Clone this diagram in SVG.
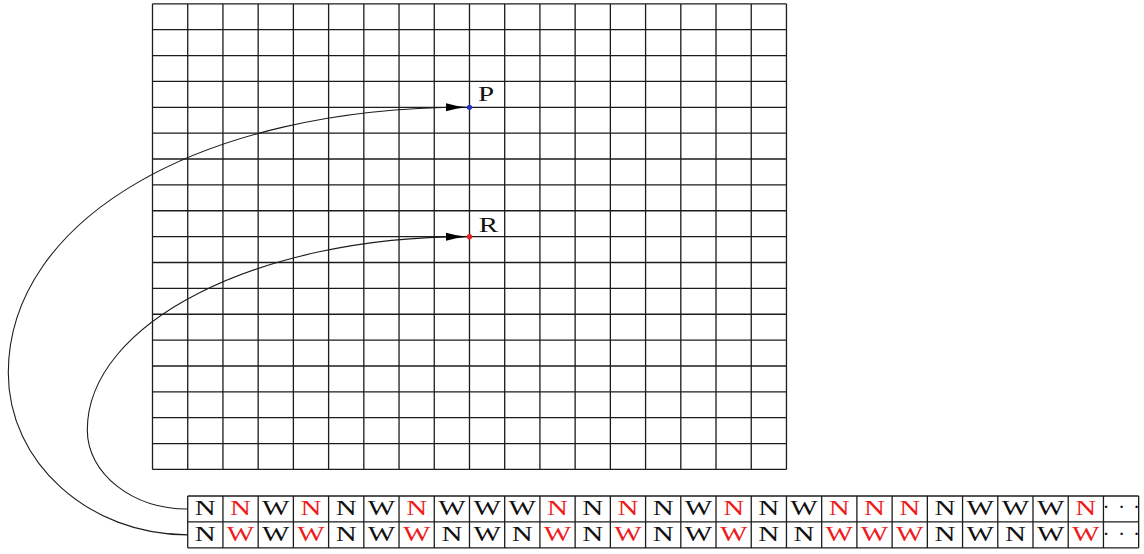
<svg xmlns="http://www.w3.org/2000/svg" width="1144" height="554" viewBox="0 0 1144 554">
<defs>
<style>
.grid{fill:none;stroke:#1c1c1c;stroke-width:1.3}
.con{fill:none;stroke:#1c1c1c;stroke-width:1.1}
.t{font-family:"Liberation Serif","DejaVu Serif",serif;font-size:21.5px;fill:#111}
.c{text-anchor:middle}
.r{fill:#ee1c1c}
</style>
<marker id="ah" markerUnits="userSpaceOnUse" markerWidth="24" markerHeight="12" refX="21" refY="5" orient="auto">
<path d="M0,1 Q10,4 21,5 Q10,6 0,9 z" fill="#000"/>
</marker>
</defs>
<rect width="1144" height="554" fill="#fff"/>
<g id="grid">
<path class="grid" d="M152.5 3.8V469.46M187.72 3.8V469.46M222.94 3.8V469.46M258.16 3.8V469.46M293.38 3.8V469.46M328.6 3.8V469.46M363.82 3.8V469.46M399.04 3.8V469.46M434.26 3.8V469.46M469.48 3.8V469.46M504.7 3.8V469.46M539.92 3.8V469.46M575.14 3.8V469.46M610.36 3.8V469.46M645.58 3.8V469.46M680.8 3.8V469.46M716.02 3.8V469.46M751.24 3.8V469.46M786.46 3.8V469.46
M152.5 3.8H786.46M152.5 29.67H786.46M152.5 55.54H786.46M152.5 81.41H786.46M152.5 107.28H786.46M152.5 133.15H786.46M152.5 159.02H786.46M152.5 184.89H786.46M152.5 210.76H786.46M152.5 236.63H786.46M152.5 262.5H786.46M152.5 288.37H786.46M152.5 314.24H786.46M152.5 340.11H786.46M152.5 365.98H786.46M152.5 391.85H786.46M152.5 417.72H786.46M152.5 443.59H786.46M152.5 469.46H786.46"/>
</g>
<g id="connectors">
<path class="con" marker-end="url(#ah)" d="M187.72,534.85 C88.6,534.85 8.3,462.4 8.3,373 C8.3,218.9 201,107.28 467,107.28"/>
<path class="con" marker-end="url(#ah)" d="M187.72,508.95 C132.27,508.95 87.3,473.6 87.3,430 C87.3,323.2 257.3,236.63 467,236.63"/>
</g>
<g id="P">
<circle cx="469.48" cy="107.28" r="2.6" fill="#2233cc"/>
<g transform="scale(1.35,1)"><text class="t" x="354.1" y="101">P</text></g>
</g>
<g id="R">
<circle cx="469.48" cy="236.63" r="2.6" fill="#ee1c1c"/>
<g transform="scale(1.35,1)"><text class="t" x="354.6" y="231.7">R</text></g>
</g>
<g id="strip">
<path class="grid" d="M187.72 496H1138.66M187.72 521.9H1138.66M187.72 547.8H1138.66
M187.72 496V547.8M222.94 496V547.8M258.16 496V547.8M293.38 496V547.8M328.6 496V547.8M363.82 496V547.8M399.04 496V547.8M434.26 496V547.8M469.48 496V547.8M504.7 496V547.8M539.92 496V547.8M575.14 496V547.8M610.36 496V547.8M645.58 496V547.8M680.8 496V547.8M716.02 496V547.8M751.24 496V547.8M786.46 496V547.8M821.68 496V547.8M856.9 496V547.8M892.12 496V547.8M927.34 496V547.8M962.56 496V547.8M997.78 496V547.8M1033 496V547.8M1068.22 496V547.8M1103.44 496V547.8M1138.66 496V547.8"/>
<g transform="scale(1.35,1)">
<text class="t c" y="515" x="152.1 178.19 204.27 230.36 256.45 282.54 308.63 334.72 360.81 386.9 412.99 439.07 465.16 491.25 517.34 543.43 569.52 595.61 621.7 647.79 673.87 699.96 726.06 752.14 778.23 804.32">N<tspan class="r">N</tspan>W<tspan class="r">N</tspan>NW<tspan class="r">N</tspan>WWW<tspan class="r">N</tspan>N<tspan class="r">N</tspan>NW<tspan class="r">N</tspan>NW<tspan class="r">NNN</tspan>NWWW<tspan class="r">N</tspan></text>
<text class="t c" y="541" x="152.1 178.19 204.27 230.36 256.45 282.54 308.63 334.72 360.81 386.9 412.99 439.07 465.16 491.25 517.34 543.43 569.52 595.61 621.7 647.79 673.87 699.96 726.06 752.14 778.23 804.32">N<tspan class="r">W</tspan>W<tspan class="r">W</tspan>NW<tspan class="r">W</tspan>NWN<tspan class="r">W</tspan>N<tspan class="r">W</tspan>NW<tspan class="r">W</tspan>NN<tspan class="r">WWW</tspan>NWNW<tspan class="r">W</tspan></text>
</g>
<text class="t c" y="514" x="1106 1121.7 1136.7">···</text>
<text class="t c" y="540.5" x="1106 1121.7 1136.7">···</text>
</g>
</svg>
